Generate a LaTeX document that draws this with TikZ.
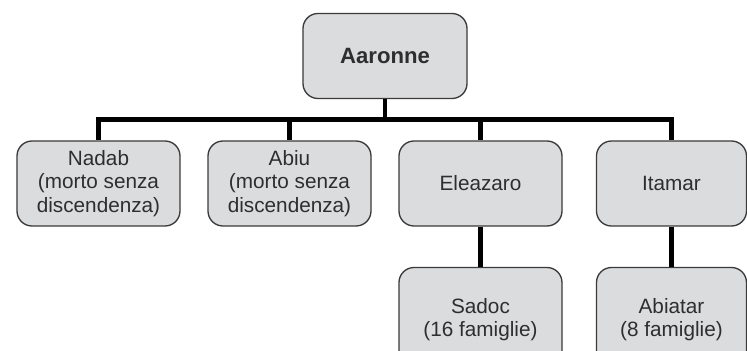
\documentclass[tikz,border=0pt]{standalone}
\usepackage{fontspec}
\setmainfont{Liberation Sans}
\usetikzlibrary{trees}
\definecolor{boxfill}{HTML}{DBDCDE}
\definecolor{boxline}{HTML}{3A3A3A}
\definecolor{boxtext}{HTML}{2E2E2E}
\tikzset{
    famnode/.style = {rectangle, rounded corners=0.3cm, draw=boxline, line width=0.75pt, fill=boxfill, text=boxtext, align=center, minimum width=3.26cm, minimum height=1.70cm, inner sep=2pt, font=\fontsize{11.8}{13.2}\selectfont},
    rootnode/.style = {famnode, minimum width=3.28cm, font=\fontsize{12.6}{14}\selectfont\bfseries},
    lownode/.style = {famnode, minimum height=2.1cm}, % cut by the page edge
    edgek/.style = {draw=black, line width=2.6pt}
}

\begin{document}
\begin{tikzpicture}[
    level 1/.style={sibling distance=3.82cm, level distance=2.55cm},
    level 2/.style={level distance=2.73cm},
    edge from parent fork down,
    edge from parent/.style={edgek}]

  \useasboundingbox (0,0) rectangle (14.94,7);
  \clip (0,0) rectangle (14.94,7);

  \node[rootnode] (aaronne) at (7.70,5.88) {Aaronne}
    child {node[famnode] (nadab) {Nadab\\(morto senza\\discendenza)}}
    child {node[famnode] (abiu) {Abiu\\(morto senza\\discendenza)}}
    child {node[famnode] (eleazaro) {Eleazaro}
      child {node[lownode] (sadoc) {Sadoc\\(16 famiglie)}}
    }
    child {node[famnode, minimum width=3.0cm] (itamar) {Itamar}
      child {node[lownode, minimum width=3.0cm] (abiatar) {Abiatar\\(8 famiglie)}}
    }
    ;

\end{tikzpicture}
\end{document}
